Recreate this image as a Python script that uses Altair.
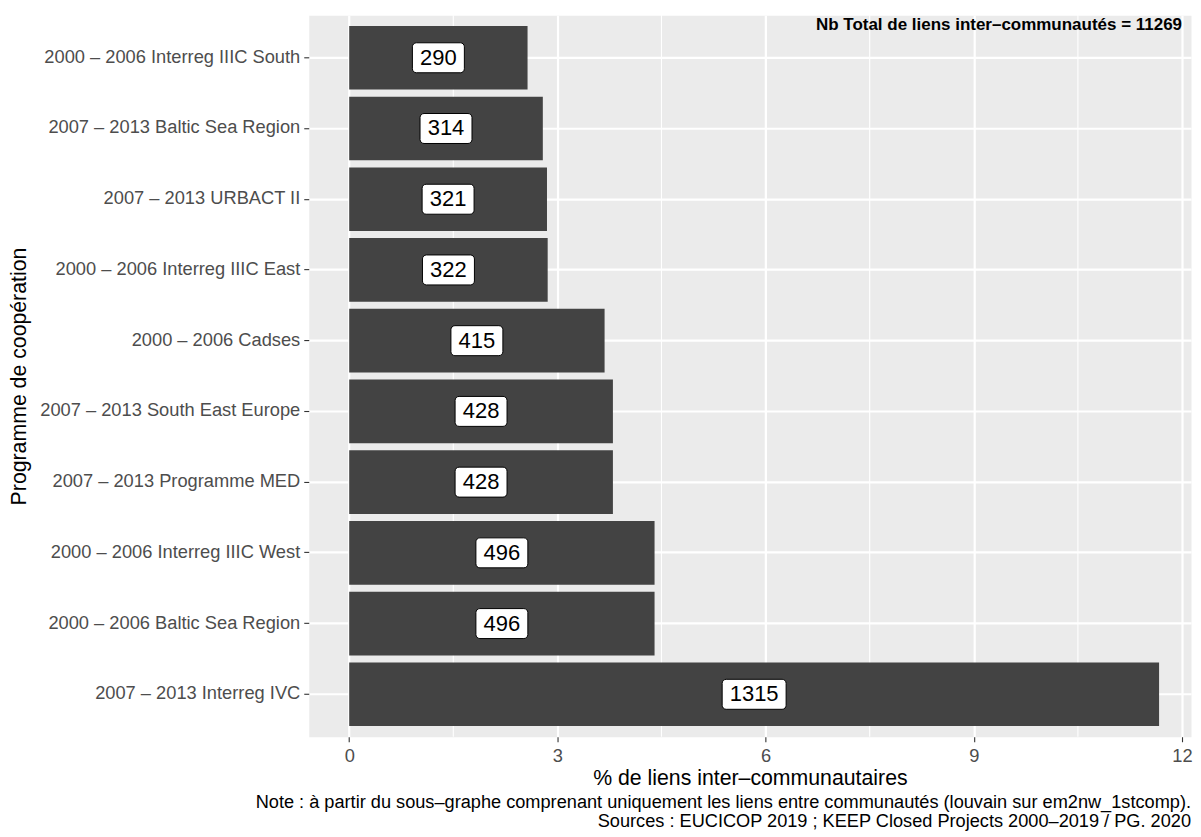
import altair as alt
import pandas as pd

programmes = [
    "2000 – 2006 Interreg IIIC South",
    "2007 – 2013 Baltic Sea Region",
    "2007 – 2013 URBACT II",
    "2000 – 2006 Interreg IIIC East",
    "2000 – 2006 Cadses\u00a0",
    "2007 – 2013 South East Europe",
    "2007 – 2013 Programme MED",
    "2000 – 2006 Interreg IIIC West",
    "2000 – 2006 Baltic Sea Region",
    "2007 – 2013 Interreg IVC",
]
liens = [290, 314, 321, 322, 415, 428, 428, 496, 496, 1315]
pct = [2.57, 2.79, 2.85, 2.86, 3.68, 3.80, 3.80, 4.40, 4.40, 11.67]
x_ticks = [0, 3, 6, 9, 12]
x_minor = [1.5, 4.5, 7.5, 10.5]
total_liens = 11269

df = pd.DataFrame({"prog": programmes, "n": liens, "pct": pct})
df["lab"] = [str(v) for v in liens]
minor_df = pd.DataFrame({"m": x_minor})

FONT = "Liberation Sans"
W, H = 883, 722
xscale = alt.Scale(domain=[-0.583, 12.13], nice=False, zero=False)
yscale = alt.Scale(domain=programmes, paddingInner=0.1, paddingOuter=0.15)

y_enc = alt.Y(
    "prog:N",
    sort=programmes,
    scale=yscale,
    axis=alt.Axis(
        title="Programme de coopération",
        titleFontSize=21.3,
        titleFontWeight="normal",
        titleColor="black",
        titleFont=FONT,
        titleX=-289.5,
        titleY=H / 2,
        titleAngle=270,
        titleBaseline="middle",
        titleAlign="center",
        labelFontSize=18.3,
        labelColor="#4D4D4D",
        labelFont=FONT,
        labelPadding=4,
        tickColor="#333333",
        tickSize=5,
        tickWidth=1.1,
        domain=False,
        grid=True,
        gridColor="white",
        gridWidth=2.2,
        bandPosition=0.5,
        labelLimit=400,
    ),
)

x_axis = alt.Axis(
    title="% de liens inter–communautaires",
    titleFontSize=21.3,
    titleFontWeight="normal",
    titleColor="black",
    titleFont=FONT,
    titlePadding=3,
    values=x_ticks,
    format="d",
    labelFontSize=18.3,
    labelColor="#4D4D4D",
    labelFont=FONT,
    labelPadding=6,
    tickColor="#333333",
    tickSize=5,
    tickWidth=1.1,
    domain=False,
    grid=True,
    gridColor="white",
    gridWidth=2.2,
)

base = alt.Chart(df)

minor = alt.Chart(minor_df).mark_rule(color="white", strokeWidth=1.1).encode(
    x=alt.X("m:Q", scale=xscale, axis=x_axis)
)

bars = base.mark_bar(color="#434343").encode(
    x=alt.X("pct:Q", scale=xscale, axis=x_axis),
    y=y_enc,
)

mid = base.transform_calculate(mid="datum.pct / 2", ln="length(datum.lab)")

box3 = mid.transform_filter("datum.ln < 4").mark_bar(
    fill="white", stroke="black", strokeWidth=1, cornerRadius=4,
    height=30, xOffset=-26, x2Offset=26,
).encode(x=alt.X("mid:Q", scale=xscale), x2="mid:Q", y=alt.Y("prog:N", sort=programmes, scale=yscale))

box4 = mid.transform_filter("datum.ln >= 4").mark_bar(
    fill="white", stroke="black", strokeWidth=1, cornerRadius=4,
    height=30, xOffset=-32, x2Offset=32,
).encode(x=alt.X("mid:Q", scale=xscale), x2="mid:Q", y=alt.Y("prog:N", sort=programmes, scale=yscale))

labels = mid.mark_text(fontSize=22, font=FONT, color="black", baseline="middle").encode(
    x=alt.X("mid:Q", scale=xscale),
    y=alt.Y("prog:N", sort=programmes, scale=yscale),
    text="lab:N",
)

annot = alt.Chart(
    alt.Data(values=[{"t": f"Nb Total de liens inter–communautés = {total_liens}"}])
).mark_text(
    fontSize=17, fontWeight="bold", font=FONT, color="black", align="right", baseline="middle"
).encode(
    x=alt.value(W - 9), y=alt.value(10), text="t:N"
)

chart = (
    alt.layer(minor, bars, box3, box4, labels, annot)
    .properties(
        width=W,
        height=H,
        view=alt.ViewBackground(fill="#EBEBEB", stroke="transparent"),
        padding={"left": 0, "top": 6, "right": 0, "bottom": 0},
        title=alt.TitleParams(
            text=[
                "Note : à partir du sous–graphe comprenant uniquement les liens entre communautés (louvain sur em2nw_1stcomp).",
                "Sources : EUCICOP 2019 ; KEEP Closed Projects 2000–2019 / PG. 2020",
            ],
            orient="bottom",
            anchor="end",
            frame="group",
            fontSize=18.2,
            fontWeight="normal",
            font=FONT,
            color="black",
            lineHeight=18.5,
            offset=5,
        ),
    )
    .configure(background="white")
)

chart.save("out.html", embed_options={"renderer": "svg", "actions": False})
